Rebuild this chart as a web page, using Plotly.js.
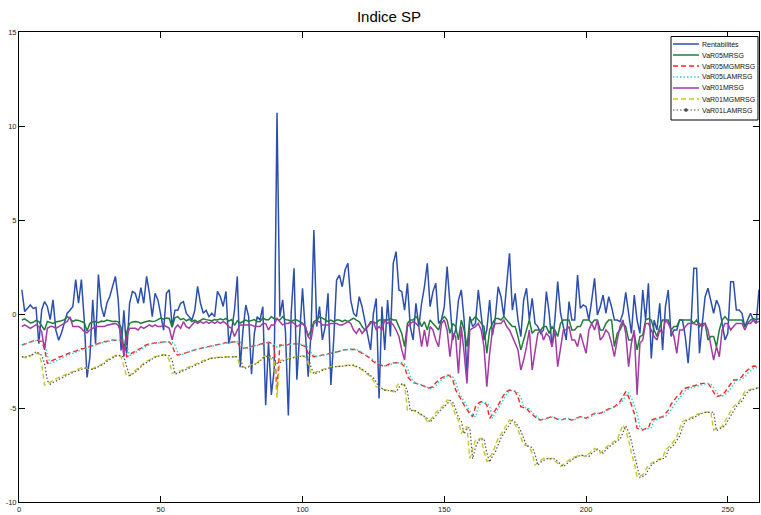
<!DOCTYPE html>
<html><head><meta charset="utf-8">
<script src="https://cdn.plot.ly/plotly-3.0.1.min.js"></script>
<style>html,body{margin:0;padding:0;background:#fff;}#chart{width:761px;height:515px;}</style>
</head><body><div id="chart"></div>
<script>
const chartTitle = 'Indice SP';
const seriesNames = ['Rentabilités','VaR05MRSG','VaR05MGMRSG','VaR05LAMRSG','VaR01MRSG','VaR01MGMRSG','VaR01LAMRSG'];
const xTicks = [0,50,100,150,200,250];
const yTicks = [-10,-5,0,5,10,15];

const rentabilites = [
1.29,0.13,0.30,0.48,0.30,0.35,-1.58,0.20,0.66,0.40,
-0.30,0.75,-0.86,-1.40,-1.00,-0.50,0.04,0.20,0.40,1.83,
0.57,1.83,-0.30,-3.37,-2.30,0.75,-1.58,2.10,0.40,-0.15,
0.57,0.93,1.47,2.00,0.75,-1.94,0.20,-2.10,0.57,1.20,
1.10,0.57,1.40,0.57,2.00,1.10,-0.14,1.10,0.75,0.04,
-0.86,1.10,1.29,-0.68,0.20,0.20,0.57,0.66,0.04,-0.14,
-0.32,0.20,1.47,0.57,0.04,0.20,-0.14,0.04,-0.14,1.20,
0.93,0.40,1.20,-1.58,-0.86,0.20,2.00,-2.83,-0.86,0.48,
-0.14,-3.20,-1.04,-0.14,-0.32,0.39,-4.85,-1.50,-4.30,-3.00,
10.70,-0.14,0.75,-1.00,-5.40,0.04,2.43,-3.50,-1.00,1.37,
-1.00,-3.33,-1.00,4.47,-0.67,0.39,-1.38,-0.67,1.10,-3.78,
-1.38,1.80,2.07,1.45,2.34,2.70,0.74,0.04,-0.14,0.92,
0.39,-0.32,-1.03,-1.91,0.04,0.83,-4.50,0.39,-1.91,0.74,
-1.20,2.70,3.32,1.28,1.19,0.21,1.63,-0.67,-1.38,0.57,
-0.67,0.57,1.45,2.70,0.39,1.19,1.63,-0.50,-0.32,0.39,
2.52,0.39,-1.38,-0.85,0.74,1.28,-0.32,-3.16,-0.14,-0.67,
-0.50,1.28,-0.14,-1.38,-0.85,0.74,-1.12,-0.20,1.45,0.92,
-0.14,1.45,3.23,0.21,1.10,-0.32,-1.20,0.74,1.37,-0.32,
0.83,-0.50,-0.67,-1.03,-0.85,1.19,0.04,-1.74,-0.32,1.72,
0.04,-0.67,-1.38,0.66,-0.32,-0.32,2.07,0.30,0.48,0.39,
-0.32,0.74,1.90,-0.05,0.39,1.01,0.04,0.92,0.39,-0.32,
-0.32,-0.41,0.04,1.15,0.04,-1.03,1.01,-0.32,-1.03,1.28,
-0.32,1.63,-2.36,-0.32,-0.85,0.57,-1.91,0.39,1.28,-1.20,
-0.85,-0.85,-0.32,-0.32,-1.20,-2.62,-0.67,2.43,2.43,-2.09,
-0.50,0.92,1.37,0.74,0.04,0.74,0.39,-0.50,-1.38,-1.03,
1.72,1.72,0.21,0.21,0.04,-0.67,-0.32,0.04,-0.32,-0.50,1.30];

const var05MRSG = [
-0.32,-0.26,-0.36,-0.48,-0.44,-0.34,-0.40,-0.62,-0.85,-0.40,
-0.45,-0.50,-0.42,-0.40,-0.36,-0.30,-0.14,-0.25,-0.40,-0.32,
-0.34,-0.40,-0.45,-0.90,-0.50,-0.42,-0.40,-0.46,-0.38,-0.40,
-0.32,-0.36,-0.40,-0.38,-0.42,-0.70,-1.91,-0.95,-0.50,-0.42,
-0.40,-0.42,-0.50,-0.44,-0.38,-0.36,-0.40,-0.38,-0.30,-0.22,
-0.28,-0.22,-0.24,-0.70,-0.20,-0.14,-0.30,-0.24,-0.36,-0.28,
-0.40,-0.32,-0.42,-0.32,-0.26,-0.30,-0.32,-0.36,-0.30,-0.32,
-0.26,-0.32,-0.24,-0.38,-0.30,-0.60,-0.36,-0.48,-0.40,-0.32,
-0.40,-0.36,-0.30,-0.40,-0.41,-0.20,-0.30,-0.30,-0.14,-0.25,
-0.30,-0.32,-0.14,-0.30,-0.32,-0.41,-0.32,-0.32,-0.41,-0.50,
-0.67,-1.20,-0.85,-0.41,-0.30,-0.14,-0.22,-0.32,-0.41,-0.32,
-0.41,-0.32,-0.32,-0.41,-0.32,-0.41,-0.32,-0.22,-0.32,-0.41,
-0.67,-0.85,-0.67,-0.41,-0.41,-0.50,-0.32,-0.32,-0.30,-0.32,
-0.24,-0.32,-0.32,-0.67,-1.03,-1.74,-0.50,-0.32,-0.32,-0.14,
-0.32,-0.67,-0.41,-0.85,-0.32,-0.50,-0.67,-0.85,-0.32,-0.14,
-0.32,-1.03,-0.50,-0.67,-1.38,-0.32,-0.85,-1.74,-0.32,-0.32,
-0.14,-0.32,-0.50,-0.67,-2.09,-0.85,-0.50,-0.24,-0.24,-0.32,
-0.14,-0.32,-0.50,-0.67,-0.67,-1.20,-1.91,-1.38,-0.85,-0.32,
-1.03,-0.85,-0.85,-0.85,-0.67,-0.67,-1.03,-0.67,-0.85,-1.20,
-0.50,-0.32,-0.32,-0.32,-0.85,-0.85,-0.67,-0.67,-0.32,-0.32,
-0.32,-0.50,-0.32,-0.32,-0.85,-0.85,-0.50,-0.32,-0.32,-1.74,
-1.03,-0.85,-0.50,-0.67,-1.38,-1.38,-1.03,-1.91,-1.20,-1.12,
-0.32,-0.24,-0.32,-0.85,-1.20,-0.67,-0.32,-0.32,-0.32,-0.85,
-0.67,-0.67,-0.32,-0.32,-0.32,-0.32,-0.32,-0.50,-0.32,-0.67,
-0.50,-0.50,-1.38,-1.20,-1.20,-1.74,-0.85,-0.32,-0.14,-0.32,
-0.32,-0.32,-0.32,-0.32,-0.32,-0.67,-0.50,-0.32,-0.24,-0.30,-0.25];

const var05MGMRSG = [
-1.65,-1.60,-1.52,-1.47,-1.45,-1.38,-1.42,-1.47,-1.83,-2.62,
-2.55,-2.45,-2.40,-2.30,-2.25,-2.18,-2.12,-2.05,-2.00,-1.98,
-1.90,-1.85,-1.83,-1.78,-1.72,-1.65,-1.62,-1.55,-1.50,-1.47,
-1.45,-1.40,-1.38,-1.40,-1.38,-1.42,-1.65,-2.27,-2.20,-2.05,
-2.00,-1.90,-1.83,-1.70,-1.62,-1.58,-1.56,-1.54,-1.52,-1.50,
-1.48,-1.47,-1.50,-1.65,-2.09,-2.18,-2.15,-2.10,-2.02,-2.00,
-1.92,-1.88,-1.86,-1.83,-1.80,-1.77,-1.74,-1.70,-1.67,-1.65,
-1.60,-1.56,-1.52,-1.50,-1.49,-1.47,-1.47,-1.77,-1.83,-1.80,
-1.76,-1.74,-1.68,-1.62,-1.60,-1.54,-1.52,-1.50,-1.55,-1.74,
-4.04,-1.65,-1.66,-1.65,-1.62,-1.58,-1.56,-1.58,-1.60,-1.68,
-1.74,-2.09,-2.20,-2.27,-2.24,-2.20,-2.18,-2.16,-2.12,-2.09,
-2.06,-2.02,-1.98,-1.91,-1.90,-1.89,-1.88,-1.88,-1.92,-2.00,
-2.10,-2.20,-2.27,-2.40,-2.54,-2.62,-2.71,-2.74,-2.80,-2.70,
-2.62,-2.60,-2.59,-2.59,-2.65,-2.80,-3.33,-3.50,-3.65,-3.69,
-3.72,-3.78,-3.85,-3.95,-3.92,-3.87,-3.65,-3.51,-3.40,-3.33,
-3.24,-3.30,-3.51,-4.04,-4.35,-4.57,-4.85,-5.11,-5.30,-5.46,
-4.93,-4.75,-4.66,-4.70,-4.84,-5.55,-5.35,-5.11,-4.85,-4.57,
-4.30,-4.13,-4.04,-4.08,-4.13,-4.40,-4.93,-4.98,-5.02,-5.20,
-5.35,-5.46,-5.60,-5.64,-5.58,-5.55,-5.50,-5.46,-5.55,-5.60,
-5.64,-5.58,-5.55,-5.60,-5.64,-5.58,-5.50,-5.46,-5.50,-5.55,
-5.45,-5.35,-5.28,-5.30,-5.28,-5.20,-5.11,-5.05,-5.00,-4.93,
-4.80,-4.66,-4.40,-4.13,-4.40,-4.85,-5.28,-6.08,-6.12,-6.17,
-6.10,-6.08,-5.64,-5.60,-5.55,-5.50,-5.46,-5.30,-5.11,-4.80,
-4.57,-4.40,-4.31,-4.04,-3.95,-3.90,-3.87,-3.82,-3.78,-3.74,
-3.69,-3.69,-3.69,-3.90,-4.13,-4.40,-4.35,-4.31,-4.15,-3.95,
-3.70,-3.51,-3.51,-3.45,-3.33,-3.10,-2.98,-2.85,-2.77,-2.78,-2.80];

const var05LAMRSG = [
-1.65,-1.62,-1.55,-1.50,-1.46,-1.42,-1.38,-1.42,-1.47,-2.20,
-2.62,-2.58,-2.50,-2.42,-2.35,-2.28,-2.20,-2.15,-2.08,-2.02,
-1.98,-1.92,-1.86,-1.82,-1.76,-1.70,-1.65,-1.60,-1.55,-1.50,
-1.47,-1.44,-1.40,-1.38,-1.40,-1.38,-1.42,-1.70,-2.20,-2.15,
-2.05,-1.98,-1.90,-1.80,-1.70,-1.62,-1.58,-1.56,-1.53,-1.52,
-1.50,-1.48,-1.47,-1.50,-1.65,-2.05,-2.18,-2.12,-2.05,-2.02,
-1.95,-1.90,-1.86,-1.84,-1.80,-1.78,-1.75,-1.72,-1.68,-1.66,
-1.62,-1.58,-1.55,-1.52,-1.50,-1.48,-1.47,-1.50,-1.80,-1.85,
-1.80,-1.77,-1.72,-1.66,-1.62,-1.58,-1.54,-1.52,-1.55,-1.62,
-1.76,-1.70,-1.66,-1.66,-1.64,-1.60,-1.57,-1.58,-1.60,-1.62,
-1.70,-1.78,-2.05,-2.20,-2.27,-2.22,-2.19,-2.17,-2.14,-2.10,
-2.07,-2.03,-1.98,-1.94,-1.90,-1.88,-1.86,-1.85,-1.88,-1.95,
-2.05,-2.15,-2.24,-2.32,-2.45,-2.58,-2.65,-2.72,-2.75,-2.76,
-2.68,-2.62,-2.60,-2.58,-2.58,-2.66,-2.85,-3.35,-3.55,-3.68,
-3.72,-3.76,-3.82,-3.90,-3.98,-3.92,-3.85,-3.62,-3.50,-3.38,
-3.30,-3.25,-3.35,-3.60,-4.10,-4.40,-4.62,-4.90,-5.15,-5.35,
-5.48,-4.95,-4.72,-4.68,-4.75,-4.88,-5.55,-5.30,-5.05,-4.80,
-4.50,-4.25,-4.10,-4.05,-4.10,-4.18,-4.45,-4.95,-5.00,-5.05,
-5.25,-5.40,-5.50,-5.62,-5.64,-5.56,-5.52,-5.48,-5.50,-5.58,
-5.62,-5.63,-5.56,-5.56,-5.62,-5.62,-5.55,-5.48,-5.48,-5.53,
-5.52,-5.42,-5.32,-5.28,-5.30,-5.25,-5.16,-5.08,-5.02,-4.96,
-4.88,-4.75,-4.60,-4.35,-4.20,-4.45,-4.90,-5.30,-6.05,-6.15,
-6.15,-6.10,-6.05,-5.66,-5.60,-5.55,-5.50,-5.45,-5.32,-5.10,
-4.85,-4.60,-4.42,-4.32,-4.08,-3.98,-3.92,-3.88,-3.84,-3.80,
-3.75,-3.72,-3.70,-3.72,-3.92,-4.15,-4.38,-4.36,-4.30,-4.15,
-3.98,-3.75,-3.55,-3.52,-3.46,-3.35,-3.15,-3.02,-2.90,-2.85,-2.95];

const var01MRSG = [
-0.67,-0.58,-0.67,-0.76,-0.67,-0.58,-0.67,-0.94,-1.91,-0.76,
-0.67,-0.67,-0.76,-0.67,-0.58,-0.50,-0.40,-0.15,-0.67,-0.67,
-0.67,-0.76,-0.94,-1.00,-0.85,-0.76,-0.67,-0.67,-0.67,-0.67,
-0.60,-0.58,-0.55,-0.50,-0.60,-1.03,-2.27,-1.20,-0.76,-0.76,
-0.76,-0.85,-0.67,-0.76,-0.67,-0.58,-0.67,-0.58,-0.67,-0.67,
-0.58,-0.67,-0.76,-1.38,-0.76,-0.58,-0.76,-0.41,-0.67,-0.76,
-0.58,-0.41,-0.50,-0.41,-0.50,-0.41,-0.50,-0.41,-0.50,-0.41,
-0.50,-0.41,-0.50,-0.67,-0.76,-1.20,-0.85,-0.58,-0.58,-0.58,
-0.58,-0.58,-0.67,-0.67,-0.67,-0.50,-0.50,-0.85,-0.58,-0.58,
-0.23,-0.41,-0.58,-0.50,-0.50,-0.41,-0.50,-0.67,-0.58,-0.50,
-0.67,-1.20,-1.38,-0.50,-0.41,-0.41,-0.58,-0.58,-0.58,-0.50,
-0.50,-0.50,-0.58,-0.58,-0.50,-0.41,-0.50,-0.85,-1.03,-0.76,
-1.03,-0.85,-0.67,-0.50,-0.41,-0.85,-0.67,-0.85,-0.32,-0.50,
-0.41,-0.58,-0.85,-1.20,-1.91,-2.45,-0.67,-0.50,-0.41,-0.50,
-0.67,-1.74,-0.85,-1.74,-0.67,-0.85,-1.38,-1.74,-0.50,-0.32,
-0.85,-2.27,-1.03,-1.20,-3.16,-0.67,-2.09,-3.69,-0.85,-0.76,
-0.67,-0.50,-0.85,-1.74,-3.87,-2.09,-0.85,-0.50,-0.50,-0.50,
-0.32,-0.67,-0.85,-1.20,-1.60,-1.91,-2.98,-2.45,-1.74,-0.85,
-2.98,-2.09,-1.03,-0.85,-1.38,-1.03,-1.20,-1.74,-0.85,-2.80,
-1.74,-0.85,-0.85,-0.67,-1.38,-1.38,-1.74,-1.03,-1.56,-2.09,
-0.85,-0.50,-0.85,-0.32,-1.38,-1.20,-0.85,-1.03,-1.56,-2.27,
-1.38,-0.67,-0.32,-1.03,-2.80,-1.56,-0.85,-4.30,-1.56,-1.38,
-0.50,-0.50,-0.85,-1.20,-1.38,-0.85,-1.03,-0.32,-0.50,-0.85,
-1.20,-2.09,-0.85,-0.85,-0.67,-0.50,-0.50,-0.50,-0.58,-0.50,
-0.67,-0.50,-0.85,-1.74,-2.45,-1.74,-2.27,-0.85,-0.50,-0.50,
-0.85,-0.67,-0.50,-0.50,-0.50,-0.85,-0.50,-0.50,-0.32,-0.45,-0.40];

const var01MGMRSG = [
-2.27,-2.32,-2.36,-2.25,-2.09,-2.10,-2.09,-2.62,-3.78,-3.72,
-3.62,-3.51,-3.45,-3.38,-3.30,-3.24,-3.18,-3.12,-3.07,-3.00,
-2.92,-2.85,-2.80,-2.90,-2.98,-2.90,-2.82,-2.75,-2.71,-2.55,
-2.45,-2.38,-2.28,-2.20,-2.18,-2.27,-2.80,-3.33,-3.25,-3.16,
-3.00,-2.85,-2.75,-2.62,-2.50,-2.45,-2.32,-2.27,-2.22,-2.18,
-2.16,-2.18,-2.45,-3.16,-3.12,-3.07,-3.02,-2.95,-2.88,-2.80,
-2.72,-2.65,-2.58,-2.54,-2.48,-2.42,-2.36,-2.34,-2.32,-2.30,
-2.30,-2.28,-2.27,-2.27,-2.26,-2.27,-2.27,-2.80,-2.82,-2.84,
-2.78,-2.72,-2.65,-2.60,-2.45,-2.30,-2.20,-2.22,-2.40,-2.45,
-4.45,-2.48,-2.45,-2.42,-2.38,-2.30,-2.27,-2.25,-2.24,-2.23,
-2.30,-2.62,-3.16,-3.12,-3.07,-3.02,-2.94,-2.90,-2.85,-2.80,
-2.80,-2.80,-2.80,-2.78,-2.74,-2.72,-2.71,-2.75,-2.80,-2.88,
-2.98,-3.10,-3.25,-3.33,-3.55,-3.87,-3.90,-3.98,-4.04,-4.04,
-4.08,-4.13,-3.90,-3.69,-3.75,-3.78,-5.11,-5.11,-5.12,-5.20,
-5.30,-5.40,-5.46,-5.73,-5.65,-5.46,-5.25,-5.11,-4.95,-4.84,
-4.57,-4.60,-4.93,-5.40,-5.64,-6.35,-6.10,-5.99,-7.68,-7.20,
-6.70,-6.65,-6.61,-7.30,-7.85,-7.60,-7.41,-7.00,-6.61,-6.40,
-6.17,-5.90,-5.64,-5.73,-5.90,-6.17,-6.55,-6.97,-7.00,-7.06,
-7.40,-8.03,-7.90,-7.80,-7.68,-7.65,-7.70,-7.68,-7.80,-7.95,
-8.12,-8.00,-7.90,-7.77,-7.70,-7.60,-7.55,-7.50,-7.55,-7.59,
-7.45,-7.30,-7.15,-7.25,-7.41,-7.25,-7.10,-6.97,-6.90,-6.75,
-6.70,-6.35,-5.90,-6.20,-6.70,-7.40,-7.94,-8.65,-8.62,-8.56,
-8.30,-8.03,-7.95,-7.85,-7.78,-7.70,-7.68,-7.23,-7.10,-6.97,
-6.75,-6.52,-6.10,-5.73,-5.65,-5.58,-5.55,-5.45,-5.35,-5.28,
-5.25,-5.22,-5.20,-5.20,-6.17,-6.10,-6.05,-5.99,-5.70,-5.46,
-5.20,-4.93,-4.80,-4.66,-4.40,-4.13,-4.05,-4.01,-3.98,-3.92,-3.90];

const var01LAMRSG = [
-2.27,-2.30,-2.25,-2.22,-2.15,-2.00,-2.12,-2.20,-2.62,-3.55,
-3.73,-3.65,-3.55,-3.45,-3.38,-3.32,-3.25,-3.18,-3.10,-3.05,
-3.00,-2.95,-2.88,-2.85,-2.92,-2.95,-2.88,-2.80,-2.74,-2.65,
-2.52,-2.42,-2.32,-2.25,-2.20,-2.22,-2.30,-2.85,-3.28,-3.20,
-3.10,-2.95,-2.80,-2.68,-2.58,-2.48,-2.38,-2.30,-2.25,-2.20,
-2.18,-2.20,-2.22,-2.45,-3.19,-3.15,-3.08,-3.02,-2.96,-2.88,
-2.80,-2.72,-2.65,-2.58,-2.52,-2.46,-2.40,-2.36,-2.33,-2.32,
-2.31,-2.30,-2.28,-2.27,-2.27,-2.26,-2.27,-2.30,-2.85,-2.88,
-2.82,-2.76,-2.70,-2.62,-2.50,-2.35,-2.28,-2.22,-2.25,-2.40,
-2.62,-2.60,-2.50,-2.45,-2.40,-2.35,-2.30,-2.27,-2.25,-2.24,
-2.24,-2.30,-2.83,-3.19,-3.15,-3.08,-3.00,-2.94,-2.88,-2.84,
-2.80,-2.80,-2.80,-2.79,-2.76,-2.73,-2.72,-2.72,-2.78,-2.84,
-2.92,-3.04,-3.16,-3.30,-3.40,-3.62,-3.92,-3.95,-4.05,-4.08,
-4.06,-4.10,-4.15,-3.90,-3.72,-3.78,-4.10,-5.15,-5.13,-5.15,
-5.25,-5.35,-5.45,-5.55,-5.76,-5.60,-5.42,-5.22,-5.08,-4.92,
-4.78,-4.60,-4.70,-5.05,-5.50,-5.70,-6.38,-6.05,-6.05,-7.70,
-7.10,-6.72,-6.65,-6.62,-7.40,-7.88,-7.55,-7.35,-6.95,-6.60,
-6.35,-6.12,-5.85,-5.65,-5.76,-5.95,-6.22,-6.60,-7.00,-7.05,
-7.10,-7.45,-8.05,-7.88,-7.78,-7.70,-7.68,-7.72,-7.70,-7.82,
-7.98,-8.12,-7.98,-7.86,-7.75,-7.66,-7.58,-7.52,-7.52,-7.57,
-7.58,-7.42,-7.28,-7.18,-7.30,-7.40,-7.22,-7.08,-6.95,-6.88,
-6.72,-6.68,-6.30,-5.95,-6.25,-6.75,-7.45,-8.00,-8.70,-8.64,
-8.55,-8.28,-8.05,-7.92,-7.82,-7.75,-7.70,-7.65,-7.25,-7.10,
-6.95,-6.72,-6.50,-6.05,-5.72,-5.62,-5.58,-5.52,-5.42,-5.33,
-5.28,-5.24,-5.22,-5.20,-5.22,-6.20,-6.12,-6.05,-5.95,-5.68,
-5.42,-5.15,-4.92,-4.75,-4.62,-4.35,-4.15,-4.05,-4.00,-3.96,-3.92];

const allSeries = [rentabilites, var05MRSG, var05MGMRSG, var05LAMRSG, var01MRSG, var01MGMRSG, var01LAMRSG];
const styles = [
  {color:'#2c4fae', dash:'solid', width:1.5},
  {color:'#1f7c3c', dash:'solid', width:1.5},
  {color:'#ff2424', dash:'5px,3px', width:1.4},
  {color:'#2ccfcf', dash:'1.5px,2px', width:1.4},
  {color:'#a43aa4', dash:'solid', width:1.5},
  {color:'#c8c62a', dash:'5px,3px', width:1.4},
  {color:'#505050', dash:'1.5px,2px', width:1.2}
];

const traces = allSeries.map((ys, k) => ({
  type:'scatter', mode:'lines', name: seriesNames[k],
  x: ys.map((_, i) => i + 1), y: ys,
  line:{color:styles[k].color, dash:styles[k].dash, width:styles[k].width},
  showlegend:false, hoverinfo:'skip'
}));

// geometry of the plot area in pixels
const W = 761, H = 515, L = 19, R = 759, T = 32, B = 502;
const px = X => (X - L) / (R - L);
const py = Y => (B - Y) / (B - T);

const shapes = [{type:'rect', xref:'paper', yref:'paper', x0:px(671), x1:px(758), y0:py(120), y1:py(36.5),
  fillcolor:'#ffffff', line:{color:'#000', width:1}, layer:'above'}];
const annotations = [];
seriesNames.forEach((nm, k) => {
  const Y = 44 + 11 * k;
  shapes.push({type:'line', xref:'paper', yref:'paper', x0:px(673), x1:px(699), y0:py(Y), y1:py(Y),
    line:{color:styles[k].color, dash:styles[k].dash, width:styles[k].width}, layer:'above'});
  annotations.push({xref:'paper', yref:'paper', x:px(700), y:py(Y), xanchor:'left', yanchor:'middle',
    text:nm, showarrow:false, font:{size:7, color:'#111', family:'Liberation Sans, Arial, sans-serif'}});
});
// marker in legend of the last entry
shapes.push({type:'circle', xref:'paper', yref:'paper', xsizemode:'pixel', ysizemode:'pixel',
  xanchor:px(686), yanchor:py(110), x0:-1.6, x1:1.6, y0:-1.6, y1:1.6,
  fillcolor:styles[6].color, line:{color:styles[6].color, width:0.5}, layer:'above'});

const axisCommon = {showgrid:false, zeroline:false, showline:true, linecolor:'#000', linewidth:1,
  mirror:'ticks', ticks:'inside', ticklen:6, tickwidth:1, tickcolor:'#000',
  tickfont:{size:7.5, color:'#222', family:'Liberation Sans, Arial, sans-serif'}};

const layout = {
  width:W, height:H, autosize:false,
  paper_bgcolor:'#fff', plot_bgcolor:'#fff',
  margin:{l:L, r:W-R, t:T, b:H-B, pad:0},
  title:{text:chartTitle, x:0.5, xref:'paper', xanchor:'center', y:1-17/H, yref:'container', yanchor:'middle',
    font:{size:15, color:'#000', family:'Liberation Sans, Arial, sans-serif'}},
  xaxis:Object.assign({}, axisCommon, {range:[0, 261], tickmode:'array', tickvals:xTicks, ticktext:xTicks.map(String)}),
  yaxis:Object.assign({}, axisCommon, {range:[-10, 15], tickmode:'array', tickvals:yTicks, ticktext:yTicks.map(String)}),
  shapes:shapes, annotations:annotations, showlegend:false
};

Plotly.newPlot('chart', traces, layout, {staticPlot:true, displayModeBar:false});
</script></body></html>
